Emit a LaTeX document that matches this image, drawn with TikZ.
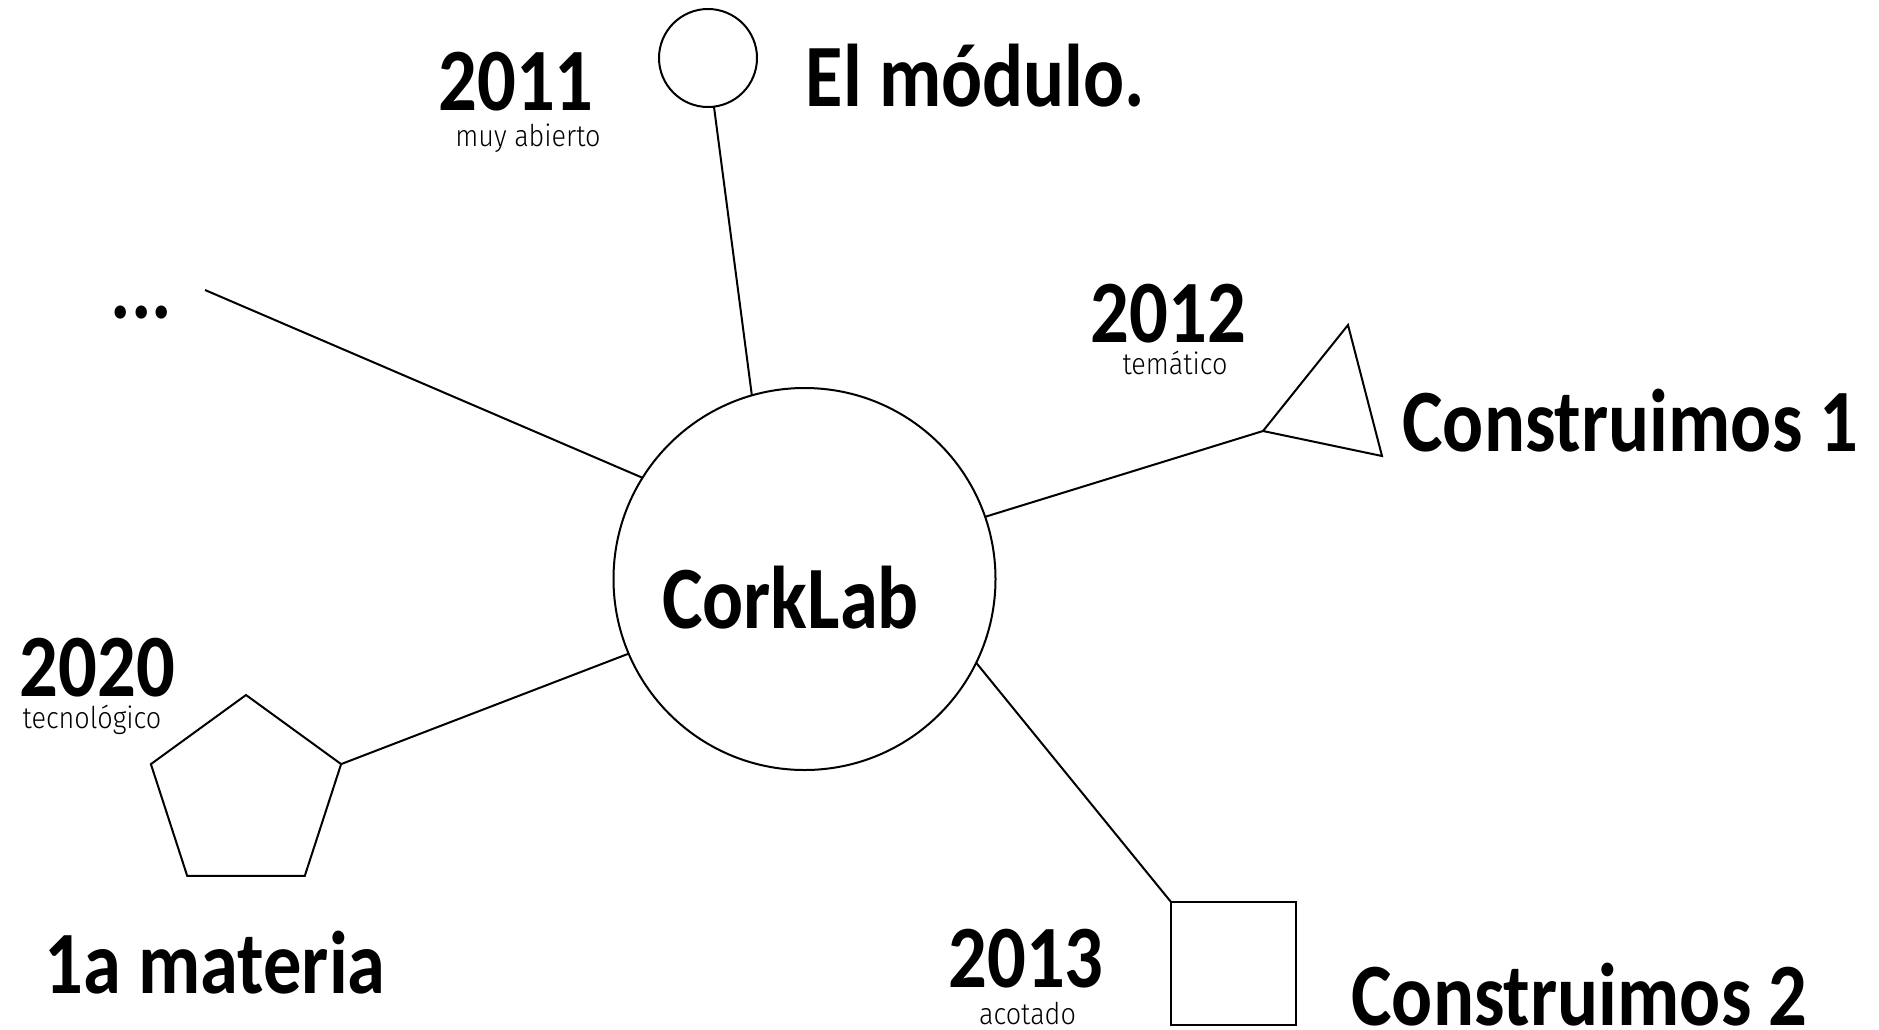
\documentclass[tikz,border=0pt]{standalone}
\usepackage{fontspec}
\setmainfont[FakeStretch=0.86]{Carlito}
\newfontfamily\thinfont[FakeStretch=0.9]{Fira Sans Light}
\usetikzlibrary{shapes.geometric}

\tikzset{
  shape line/.style={draw, inner sep=0pt, outer sep=0pt},
  big label/.style={inner sep=0pt, anchor=base, text depth=0pt, font=\fontsize{89}{90}\selectfont\bfseries},
  small label/.style={inner sep=0pt, anchor=base, font=\thinfont\fontsize{30}{32}\selectfont},
}

\begin{document}
\begin{tikzpicture}[x=1pt,y=-1pt,line width=2pt]
	\useasboundingbox (0,0) rectangle (1879,1029);
	% centro
	\node[shape line,circle,minimum size=382pt] (hub) at (804.5,579) {};
	\node[big label] (corklab) at (790.5,628) {CorkLab};
	% 2011
	\node[shape line,circle,minimum size=98pt] (modulo) at (708,58) {};
	\node[big label] (y2011) at (516,110) {2011};
	\node[small label] (t2011) at (528,146) {muy abierto};
	\node[big label] (modtext) at (975.5,106) {El módulo.};
	% ...
	\node[big label] (dots) at (141.5,318.5) {...};
	\coordinate (dotsend) at (205,290);
	% 2012
	\coordinate (tri) at (1263,431);
	\draw (1348,325) -- (tri) -- (1382,456) -- cycle;
	\node[big label] (y2012) at (1168.5,342) {2012};
	\node[small label] (t2012) at (1175,374) {temático};
	\node[big label] (cons1) at (1630.5,451) {Construimos 1};
	% 2013
	\node[shape line,rectangle,minimum width=125pt,minimum height=123pt] (square) at (1233.5,963.5) {};
	\node[big label] (y2013) at (1026,987) {2013};
	\node[small label] (t2013) at (1027.5,1024) {acotado};
	\node[big label] (cons2) at (1579.5,1025) {Construimos 2};
	% 2020
	\node[shape line,regular polygon,regular polygon sides=5,minimum size=200pt] (penta) at (246,795) {};
	\node[big label] (y2020) at (97.5,696) {2020};
	\node[small label] (t2020) at (92,728) {tecnológico};
	\node[big label] (materia) at (215,993) {1a materia};
	% lineas
	\draw (hub.106.8) -- (modulo.-83);
	\draw (hub.148.7) -- (dotsend);
	\draw (hub.19.5) -- (tri);
	\draw (hub.-26.4) -- (square.north west);
	\draw (hub.-157.1) -- (penta.corner 5);
\end{tikzpicture}
\end{document}
